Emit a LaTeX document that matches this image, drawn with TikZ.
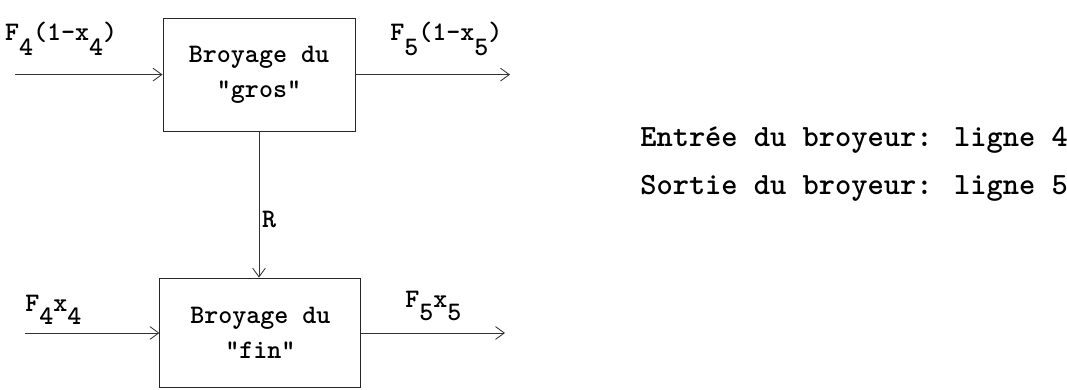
\documentclass[tikz,border=0pt]{standalone}
\usepackage{tikz}
\usetikzlibrary{positioning,arrows.meta}
\usepackage{xcolor}
\newcommand{\lowr}[1]{\raisebox{-1.35ex}{#1}}
\newcommand{\lowf}[1]{\raisebox{-1.2ex}{#1}}

\begin{document}
\begin{tikzpicture}[>={Straight Barb[length=2.2mm,width=3.2mm]},font=\ttfamily\bfseries\fontsize{19}{25}\selectfont,
  box/.style={draw=black!85,line width=0.7pt,align=center,inner sep=0pt},
  flow/.style={->,line width=0.6pt,draw=black!80}]
\useasboundingbox (0,0) rectangle (26.675,9.725);
\node[box,minimum width=4.8cm,minimum height=2.825cm] (gros) at (6.475,7.86) {Broyage du\\"gros"};
\node[box,minimum width=5.025cm,minimum height=2.745cm] (fin) at (6.51,1.4) {Broyage du\\"fin"};
\coordinate (ing) at (0.375,7.86);
\coordinate (outg) at (12.75,7.86);
\coordinate (inf) at (0.625,1.4);
\coordinate (outf) at (12.625,1.4);
\draw[flow] (ing) -- (gros);
\draw[flow] (gros) -- (outg);
\draw[flow] (inf) -- (fin);
\draw[flow] (fin) -- (outf);
\draw[flow] (gros.south) -- (gros.south |- fin.north) node[pos=0.6,right=1pt,inner sep=1pt] (r) {R};
\node[anchor=base west,inner sep=0pt] (lg4) at (0.12,8.72) {F\lowr{4}(1-x\lowr{4})};
\node[anchor=base west,inner sep=0pt] (lg5) at (9.75,8.72) {F\lowr{5}(1-x\lowr{5})};
\node[anchor=base west,inner sep=0pt] (lf4) at (0.625,1.95) {F\lowf{4}x\lowf{4}};
\node[anchor=base west,inner sep=0pt] (lf5) at (10.125,2.05) {F\lowf{5}x\lowf{5}};
\node[anchor=base west,inner sep=0pt,font=\ttfamily\bfseries\fontsize{22}{25}\selectfont] (ent) at (16.0,6.05) {Entrée du broyeur: ligne 4};
\node[anchor=base west,inner sep=0pt,font=\ttfamily\bfseries\fontsize{22}{25}\selectfont] (sor) at (16.0,4.85) {Sortie du broyeur: ligne 5};
\end{tikzpicture}
\end{document}
